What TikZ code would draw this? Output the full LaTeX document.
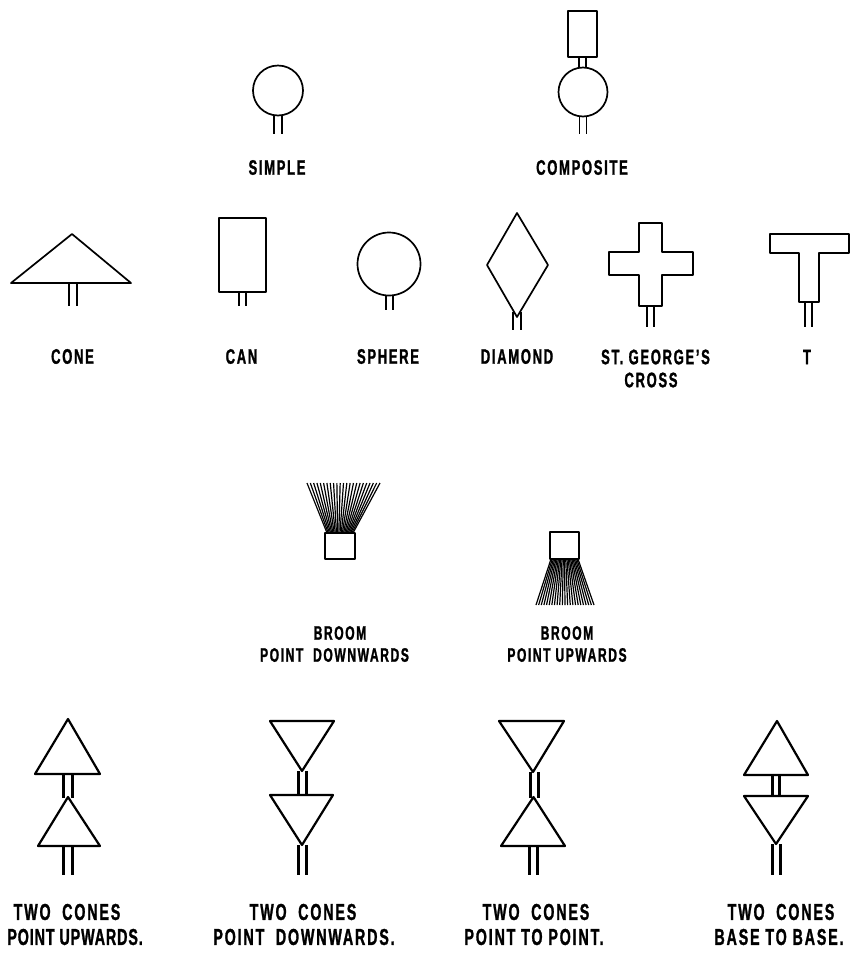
\documentclass[tikz,border=0pt]{standalone}
\usepackage{fontspec}
\setmainfont[FakeStretch=0.62,LetterSpace=8,BoldFeatures={FakeBold=1.2}]{Liberation Sans}
\usepackage{tikz}

\begin{document}
\begin{tikzpicture}[
    x=1pt, y=-1pt,
    symb/.style={line width=1.7pt, line join=round},
    thickcone/.style={line width=2.2pt, line join=round},
    twin/.style={line width=3pt},
    bristle/.style={line width=1.2pt},
    lab/.style={font=\bfseries\fontsize{21}{21}\selectfont, align=center, inner sep=0pt},
    sublab/.style={font=\bfseries\fontsize{19.5}{19.5}\selectfont, align=center, inner sep=0pt},
    biglab/.style={font=\bfseries\fontsize{23}{23}\selectfont, align=center, inner sep=0pt}
]
\useasboundingbox (0,0) rectangle (851,954);

% Simple and composite
\draw[symb] (278,90.5) circle (25);
\draw[symb] (274.3,115) -- (274.3,134) (281.7,115) -- (281.7,134);
\draw[symb] (568,11) rectangle (597,57);
\draw[symb] (579,57) -- (579,68) (586,57) -- (586,68);
\draw[symb] (583,92) circle (24.5);
\draw[symb] (579.5,116) -- (579.5,134) (586.5,116) -- (586.5,134);
\node[lab] (simple) at (277,167.5) {SIMPLE};
\node[lab] (composite) at (582,167.5) {COMPOSITE};

% Single shapes
\draw[symb] (72,234) -- (131,283) -- (11,283) -- cycle;
\draw[symb] (69,283) -- (69,306) (77,283) -- (77,306);
\draw[symb] (219,218) rectangle (266,292);
\draw[symb] (239,292) -- (239,306) (246.3,292) -- (246.3,306);
\draw[symb] (389,264) circle (31.5);
\draw[symb] (385.7,295) -- (385.7,310) (393,295) -- (393,310);
\draw[symb] (517,213) -- (548,265) -- (517,317) -- (487,265) -- cycle;
\draw[symb] (513,312) -- (513,330) (521,312) -- (521,330);
\draw[symb] (639,223) -- (662,223) -- (662,252) -- (693,252) -- (693,275) -- (662,275) -- (662,306)
    -- (639,306) -- (639,275) -- (609,275) -- (609,252) -- (639,252) -- cycle;
\draw[symb] (647,306) -- (647,327) (654,306) -- (654,327);
\draw[symb] (770,234) -- (849,234) -- (849,253) -- (819,253) -- (819,302) -- (799,302) -- (799,253)
    -- (770,253) -- cycle;
\draw[symb] (805,302) -- (805,327) (812,302) -- (812,327);
\node[lab] (cone) at (72.5,356.5) {CONE};
\node[lab] (can) at (241.5,356.5) {CAN};
\node[lab] (sphere) at (388,356.5) {SPHERE};
\node[lab] (diamond) at (517,356.5) {DIAMOND};
\node[lab] (george) at (655.5,357) {ST. GEORGE'S};
\node[lab] (cross) at (651,380) {CROSS};
\node[lab] (tee) at (807,357) {T};

% Brooms
\foreach \k in {0,...,22} {
    \draw[bristle] ({327+\k*26/22},533) -- ({307+\k*73/22},483);
    \draw[bristle] ({551+\k*27/22},559) -- ({536+\k*58/22},605);
}
\draw[symb, fill=white] (325,533) rectangle (355,559);
\draw[symb, fill=white] (550,532) rectangle (579,559);
\node[sublab] (broomdown) at (340,633) {BROOM};
\node[sublab] (pointdown) at (334.5,655) {POINT\ \ DOWNWARDS};
\node[sublab] (broomup) at (567,633) {BROOM};
\node[sublab] (pointup) at (567,655) {POINT UPWARDS};

% Two cones, point upwards
\draw[thickcone] (68,719) -- (100,774) -- (35,774) -- cycle;
\draw[twin] (63,774) -- (63,798) (72,774) -- (72,798);
\draw[thickcone] (68,797) -- (100,846) -- (38,846) -- cycle;
\draw[twin] (63,846) -- (63,875) (72,846) -- (72,875);

% Two cones, point downwards
\draw[thickcone] (270,721) -- (334,721) -- (302,771) -- cycle;
\draw[twin] (298,771) -- (298,795) (306,771) -- (306,795);
\draw[thickcone] (270,795) -- (333,795) -- (302,845) -- cycle;
\draw[twin] (298,845) -- (298,875) (306,845) -- (306,875);

% Two cones, point to point
\draw[thickcone] (499,721) -- (564,721) -- (533,772) -- cycle;
\draw[twin] (530,772) -- (530,798) (538,772) -- (538,798);
\draw[thickcone] (533.5,797) -- (565,846) -- (501,846) -- cycle;
\draw[twin] (529,846) -- (529,875) (537,846) -- (537,875);

% Two cones, base to base
\draw[thickcone] (777,721) -- (808,775) -- (744,775) -- cycle;
\draw[twin] (772,775) -- (772,796) (779,775) -- (779,796);
\draw[thickcone] (744,796) -- (808,796) -- (776,844) -- cycle;
\draw[twin] (772,844) -- (772,875) (780,844) -- (780,875);

% Labels below the cones
\node[biglab] (twoa) at (67,912) {TWO\ \ CONES};
\node[biglab] (twob) at (303,912) {TWO\ \ CONES};
\node[biglab] (twoc) at (536,912) {TWO\ \ CONES};
\node[biglab] (twod) at (781,912) {TWO\ \ CONES};
\node[biglab, anchor=east, font=\bfseries\fontsize{23}{23}\selectfont\addfontfeature{LetterSpace=4}] (pointa) at (143,937) {POINT UPWARDS.};
\node[biglab] (pointb) at (304,937) {POINT\ \ DOWNWARDS.};
\node[biglab] (pointc) at (534,937) {POINT TO POINT.};
\node[biglab] (based) at (779,937) {BASE TO BASE.};
\end{tikzpicture}
\end{document}
